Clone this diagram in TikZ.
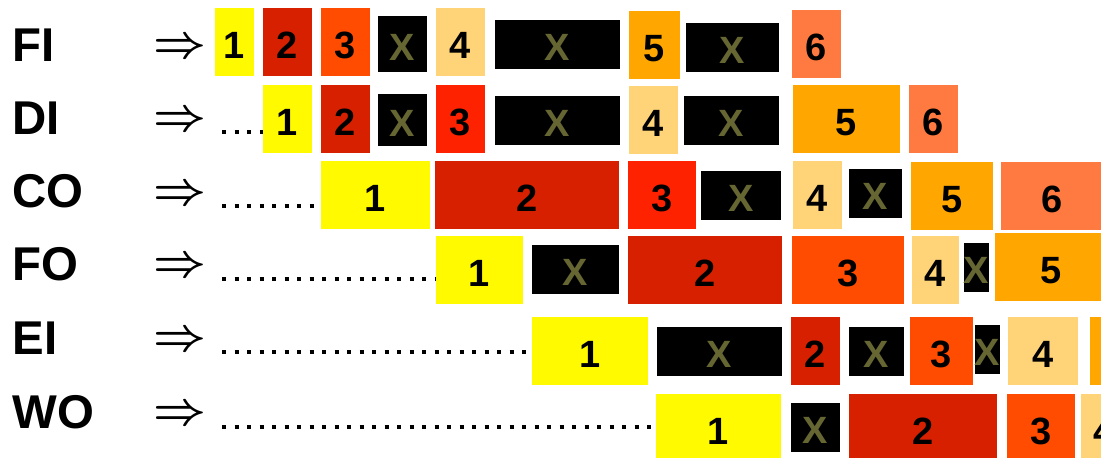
\documentclass[tikz,border=0pt]{standalone}
\usepackage{fontspec}
\setmainfont{Liberation Sans}
\definecolor{cY}{RGB}{255,250,0}
\definecolor{cD}{RGB}{214,32,0}
\definecolor{cO}{RGB}{255,76,0}
\definecolor{cR}{RGB}{255,34,0}
\definecolor{cL}{RGB}{255,212,121}
\definecolor{cA}{RGB}{255,166,0}
\definecolor{cC}{RGB}{255,122,64}
\definecolor{cX}{RGB}{102,102,51}
\newcommand\lost{\textcolor{cX}{X}}
\tikzset{
 lbl/.style={inner sep=0pt,anchor=base west,font=\bfseries\fontsize{23.7}{24}\selectfont},
 arr/.style={inner sep=0pt},
 blk/.style={inner sep=0pt,outer sep=0pt,text height=16.5pt,text depth=0pt,font=\bfseries\fontsize{19}{19}\selectfont},
 dotrow/.style={line width=2pt,dash pattern=on 2pt off 4.25pt}
}
\begin{document}
\begin{tikzpicture}[x=.5pt,y=-.5pt]
 \useasboundingbox (0,0) rectangle (1101,458);
 \foreach \nm/\t/\yb/\ya in {fi/FI/62/49,di/DI/135/122,co/CO/208/196,fo/FO/281/268,ei/EI/355/342,wo/WO/429/416}{
  \node[lbl] (\nm-l) at (12,\yb) {\t}; \node[arr] (\nm-a) at (180,\ya) {\scalebox{2.3}{\boldmath$\Rightarrow$}};}
 % pipeline slots
 \foreach \nm/\xa/\ya/\xb/\yb/\c/\t in {
  fi1/215/8/254/76/cY/1, fi2/263/8/312/76/cD/2, fi3/321/8/370/76/cO/3, fix1/378/16/427/72/black/\lost, fi4/436/8/485/76/cL/4,
  fix2/495/20/620/69/black/\lost, fi5/629/11/680/79/cA/5, fix3/686/23/779/72/black/\lost, fi6/792/10/841/78/cC/6,
  di1/263/85/312/153/cY/1, di2/321/85/370/153/cD/2, dix1/378/94/427/146/black/\lost, di3/436/85/485/153/cR/3,
  dix2/495/96/620/145/black/\lost, di4/629/86/678/154/cL/4, dix3/684/96/779/145/black/\lost, di5/793/85/900/153/cA/5, di6/909/85/958/153/cC/6,
  co1/321/161/430/229/cY/1, co2/435/161/619/229/cD/2, co3/628/161/696/229/cR/3, cox1/701/171/781/220/black/\lost,
  co4/793/161/842/229/cL/4, cox2/849/169/902/218/black/\lost, co5/911/162/993/230/cA/5, co6/1001/162/1103/230/cC/6,
  fo1/436/236/523/304/cY/1, fox1/532/245/619/294/black/\lost, fo2/628/236/782/304/cD/2, fo3/792/236/904/304/cO/3,
  fo4/912/236/959/304/cL/4, fox2/964/243/989/292/black/\lost, fo5/995/233/1107/301/cA/5,
  ei1/532/317/648/385/cY/1, eix1/657/327/782/376/black/\lost, ei2/791/317/840/385/cD/2, eix2/849/327/904/376/black/\lost,
  ei3/910/317/973/385/cO/3, eix3/975/325/1000/374/black/\lost, ei4/1008/317/1078/385/cL/4, ei5/1090/317/1150/385/cA/{},
  wo1/656/394/781/462/cY/1, wox1/791/403/840/452/black/\lost, wo2/849/394/997/462/cD/2, wo3/1007/394/1075/462/cO/3, wo4/1081/394/1128/462/cL/4}{
  \node[blk,fill=\c,minimum width={(\xb-\xa)*.5pt},minimum height={(\yb-\ya)*.5pt}] (\nm) at ({(\xa+\xb)/2},{(\ya+\yb)/2}) {\t};}
 % leading dots
 \foreach \nm/\y in {di/132,co/206,fo/279,ei/352,wo/427}{
  \coordinate (\nm-s) at (222,\y); \draw[dotrow] (\nm-s) -- (\nm-s -| \nm1.west);}
\end{tikzpicture}
\end{document}
